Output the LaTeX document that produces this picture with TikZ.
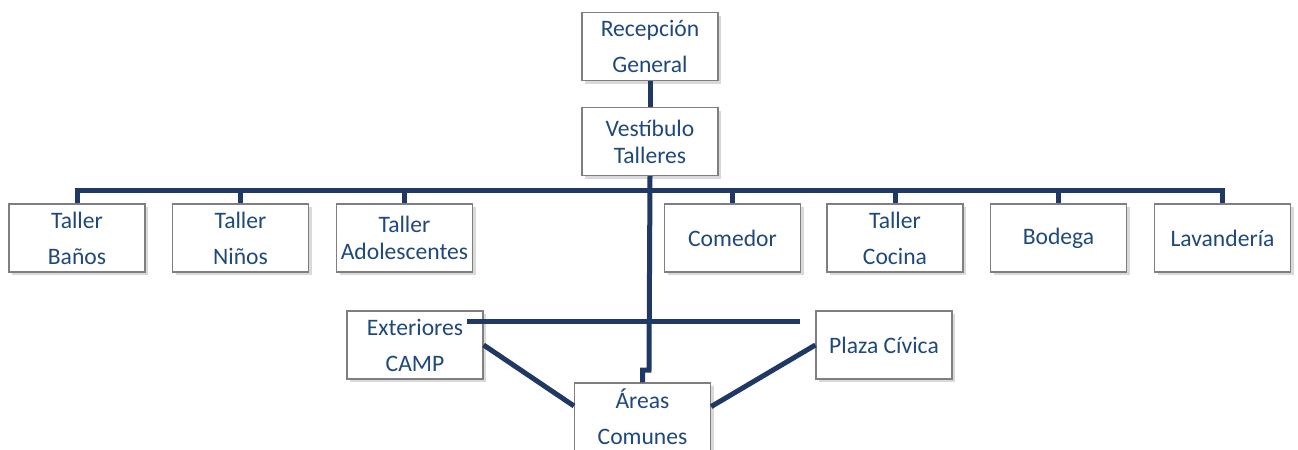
\documentclass[tikz,border=0pt]{standalone}
\usepackage{fontspec}
\setmainfont{Carlito}
\usepackage{tikz}
\usetikzlibrary{shadows,calc}
\definecolor{linkblue}{RGB}{31,56,100}
\definecolor{textblue}{RGB}{31,73,125}
\definecolor{boxgray}{RGB}{127,127,127}

\begin{document}
\begin{tikzpicture}[x=0.5pt, y=-0.5pt,
      room/.style={draw=boxgray, line width=0.6pt, fill=white, text=textblue,
        minimum width=68pt, minimum height=34pt, inner sep=0pt, align=center,
        font=\fontsize{11.8}{18}\selectfont,
        drop shadow={shadow xshift=1.5pt, shadow yshift=-1.5pt, opacity=0.3}},
      tight/.style={font=\fontsize{11.8}{13.5}\selectfont},
      link/.style={draw=linkblue, line width=2.5pt}]
    \useasboundingbox (0,0) rectangle (1298,450);
    \node (rec) [room] at (650,46.5) {Recepción\\General};
    \node (vest) [room, tight] at (650,141.5) {Vestíbulo\\Talleres};
    \node (banos) [room] at (77,238) {Taller\\Baños};
    \node (ninos) [room] at (240.5,238) {Taller\\Niños};
    \node (adol) [room, tight] at (404.5,238) {Taller\\Adolescentes};
    \node (comedor) [room] at (732.5,238) {Comedor};
    \node (cocina) [room] at (895,238) {Taller\\Cocina};
    \node (bodega) [room] at (1058.5,238) {Bodega};
    \node (lav) [room] at (1222.5,238) {Lavandería};
    \node (ext) [room] at (415,345) {Exteriores\\CAMP};
    \node (plaza) [room] at (884,345) {Plaza Cívica};
    \node (areas) [room] at (642.5,417) {Áreas\\Comunes};
    \coordinate (bus) at (0,190);
    \coordinate (jog) at (649,370);
    \coordinate (crossL) at (467,321);
    \coordinate (crossR) at (800,321);
    \draw[link] (rec) -- (vest);
    \draw[link] (banos.north) -- (banos.north |- bus) -- (lav.north |- bus) -- (lav.north);
    \foreach \r in {ninos,adol,comedor,cocina,bodega}
      \draw[link] (\r.north |- bus) -- (\r.north);
    \draw[link] (vest.south) -- (jog) -| (areas.north);
    \draw[link] (crossL) -- (crossR);
    \draw[link] (ext.east) -- ($(areas.north west)!0.34!(areas.south west)$);
    \draw[link] (plaza.west) -- ($(areas.north east)!0.35!(areas.south east)$);
  \end{tikzpicture}
\end{document}
